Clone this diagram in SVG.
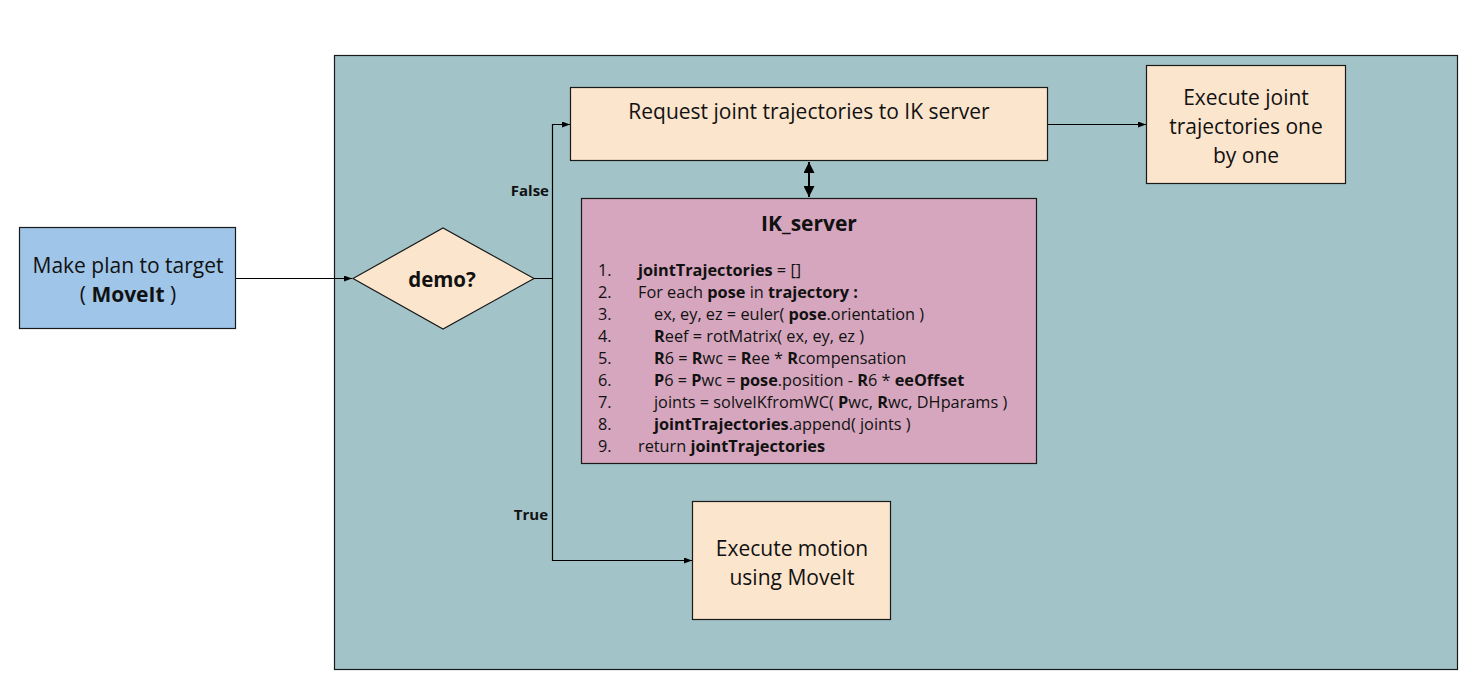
<svg xmlns="http://www.w3.org/2000/svg" width="1481" height="697" viewBox="0 0 1481 697">
<defs>
<marker id="a" viewBox="0 0 8 6" refX="8" refY="3" markerWidth="8" markerHeight="6" markerUnits="userSpaceOnUse" orient="auto"><path d="M0,0 L8,3 L0,6 Z" fill="#000"/></marker>
<marker id="b" viewBox="0 0 10 10" refX="10" refY="5" markerWidth="11" markerHeight="11" markerUnits="userSpaceOnUse" orient="auto-start-reverse"><path d="M0,0 L10,5 L0,10 Z" fill="#000"/></marker>
</defs>
<style>
.t{font-family:"Open Sans","Liberation Sans",sans-serif;fill:#111;}
.m{font-size:21px;text-anchor:middle;}
.l{font-size:16.3px;}
.b{font-weight:bold;}
.box{stroke:#1a1a1a;stroke-width:1.2;}
.c{fill:none;stroke:#000;stroke-width:1.2;}
</style>
<rect width="1481" height="697" fill="#fff"/>
<g id="container"><rect x="334.5" y="55.5" width="1123" height="614" fill="#a2c3c8" class="box"/></g>
<g id="plan"><rect x="19.5" y="227.5" width="216" height="101" fill="#9fc5e8" class="box"/>
<text class="t m" x="128" y="273">Make plan to target</text>
<text class="t m" x="128" y="302">( <tspan class="b">MoveIt</tspan> )</text></g>
<g id="demo"><polygon points="353,278.5 443,228 534,278.5 443,329" fill="#fce5cd" class="box"/>
<text class="t b" x="442" y="287" font-size="20.5" text-anchor="middle">demo?</text></g>
<g id="request"><rect x="570.5" y="87.5" width="477" height="73" fill="#fce5cd" class="box"/>
<text class="t m" x="809" y="119">Request joint trajectories to IK server</text></g>
<g id="execjoint"><rect x="1146.5" y="65.5" width="199" height="118" fill="#fce5cd" class="box"/>
<text class="t m" x="1246" y="105">Execute joint</text>
<text class="t m" x="1246" y="134">trajectories one</text>
<text class="t m" x="1246" y="163">by one</text></g>
<g id="ikserver"><rect x="581.5" y="198.5" width="455" height="265" fill="#d5a6bd" class="box"/>
<text class="t b" x="809" y="231" font-size="21" text-anchor="middle">IK_server</text>
<g class="t l">
<text x="598" y="276">1.</text><text x="638" y="276"><tspan class="b">jointTrajectories</tspan> = []</text>
<text x="598" y="298">2.</text><text x="638" y="298">For each <tspan class="b">pose</tspan> in <tspan class="b">trajectory :</tspan></text>
<text x="598" y="320">3.</text><text x="654" y="320">ex, ey, ez = euler( <tspan class="b">pose</tspan>.orientation )</text>
<text x="598" y="342">4.</text><text x="654" y="342"><tspan class="b">R</tspan>eef = rotMatrix( ex, ey, ez )</text>
<text x="598" y="364">5.</text><text x="654" y="364"><tspan class="b">R</tspan>6 = <tspan class="b">R</tspan>wc = <tspan class="b">R</tspan>ee * <tspan class="b">R</tspan>compensation</text>
<text x="598" y="386">6.</text><text x="654" y="386"><tspan class="b">P</tspan>6 = <tspan class="b">P</tspan>wc = <tspan class="b">pose</tspan>.position - <tspan class="b">R</tspan>6 * <tspan class="b">eeOffset</tspan></text>
<text x="598" y="408">7.</text><text x="654" y="408">joints = solveIKfromWC( <tspan class="b">P</tspan>wc, <tspan class="b">R</tspan>wc, DHparams )</text>
<text x="598" y="430">8.</text><text x="654" y="430"><tspan class="b">jointTrajectories</tspan>.append( joints )</text>
<text x="598" y="452">9.</text><text x="638" y="452">return <tspan class="b">jointTrajectories</tspan></text>
</g></g>
<g id="execmotion"><rect x="692.5" y="501.5" width="198" height="118" fill="#fce5cd" class="box"/>
<text class="t m" x="792" y="556">Execute motion</text>
<text class="t m" x="792" y="585">using MoveIt</text></g>
<g id="connectors">
<path class="c" d="M236,278.5 H352" marker-end="url(#a)"/>
<path class="c" d="M534,278.5 H552.5 V124.5 H570" marker-end="url(#a)"/>
<path class="c" d="M552.5,278.5 V560.5 H692" marker-end="url(#a)"/>
<path class="c" d="M1048,124.5 H1146" marker-end="url(#a)"/>
<path fill="none" stroke="#000" stroke-width="2" d="M809,162 V197" marker-start="url(#b)" marker-end="url(#b)"/>
<text class="t b" x="549" y="196" font-size="15" text-anchor="end">False</text>
<text class="t b" x="548" y="520" font-size="15" text-anchor="end">True</text>
</g>
</svg>
